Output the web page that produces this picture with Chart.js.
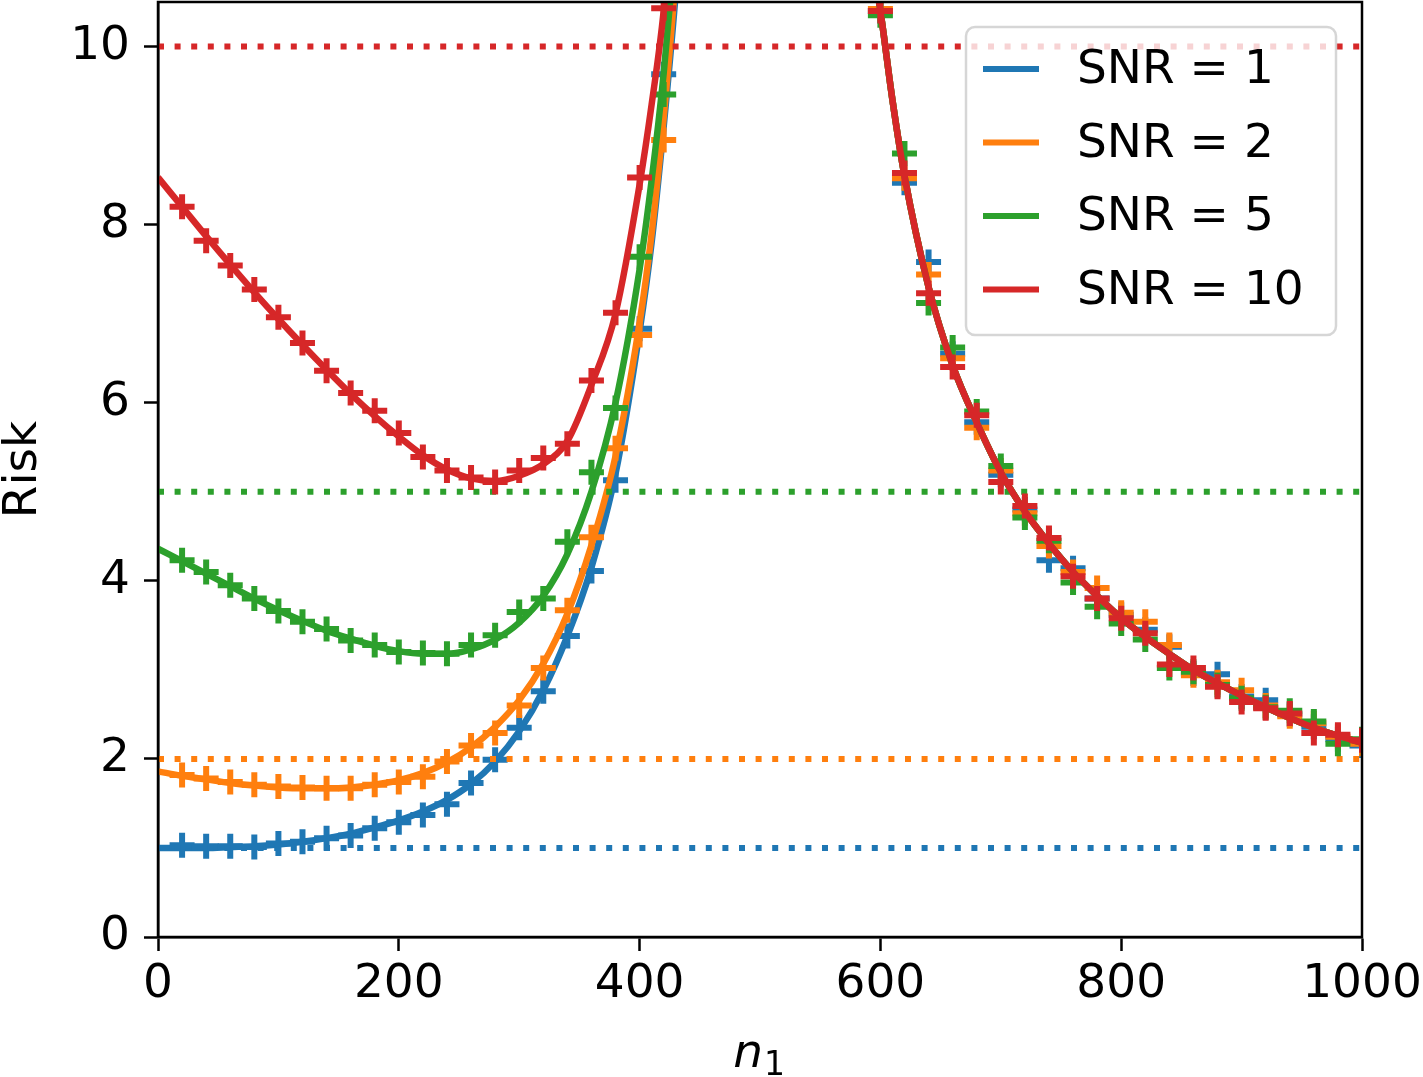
<!DOCTYPE html>
<html>
<head>
<meta charset="utf-8">
<script src="https://cdn.jsdelivr.net/npm/chart.js@4.4.0/dist/chart.umd.min.js"></script>
<style>
  html, body { margin: 0; padding: 0; background: #fff; }
  #wrap { width: 1423px; height: 1077px; }
</style>
</head>
<body>
<div id="wrap"><canvas id="riskChart" width="1423" height="1077"></canvas></div>
<script>
// series labels / colours
const seriesNames = ['SNR = 1', 'SNR = 2', 'SNR = 5', 'SNR = 10'];
const snrLevels = [1, 2, 5, 10];
const colors = ['#1f77b4', '#ff7f0e', '#2ca02c', '#d62728'];

// theory curves, left branch (n1 up to the blow-up)
const lineLeftN = [0, 20, 40, 60, 80, 100, 120, 140, 160, 180, 200, 220, 240, 260, 280, 300, 320, 340, 360, 380, 400, 410, 420, 430, 440];
const blueLine   = [1.00, 1.00, 1.00, 1.01, 1.02, 1.04, 1.07, 1.11, 1.16, 1.23, 1.31, 1.41, 1.54, 1.72, 1.97, 2.31, 2.77, 3.38, 4.15, 5.20, 6.80, 7.80, 9.10, 10.60, 12.50];
const orangeLine = [1.86, 1.81, 1.77, 1.73, 1.70, 1.68, 1.67, 1.67, 1.68, 1.71, 1.76, 1.84, 1.96, 2.13, 2.36, 2.66, 3.07, 3.63, 4.40, 5.40, 6.90, 7.90, 9.20, 10.80, 12.80];
const greenLine  = [4.36, 4.22, 4.08, 3.94, 3.80, 3.67, 3.55, 3.44, 3.35, 3.27, 3.21, 3.18, 3.18, 3.23, 3.34, 3.53, 3.83, 4.30, 5.00, 6.00, 7.50, 8.50, 9.70, 11.20, 13.00];
const redLine    = [8.53, 8.20, 7.87, 7.55, 7.24, 6.94, 6.65, 6.37, 6.10, 5.85, 5.62, 5.41, 5.25, 5.15, 5.12, 5.18, 5.31, 5.57, 6.20, 7.00, 8.45, 9.35, 10.40, 12.00, 14.00];

// theory curve, right branch (the four curves coincide here)
const lineRightN = [590, 600, 610, 620, 640, 660, 680, 700, 720, 740, 760, 780, 800, 820, 840, 860, 880, 900, 920, 940, 960, 980, 1000];
const rightLine  = [11.2, 10.4, 9.4, 8.55, 7.30, 6.42, 5.78, 5.22, 4.78, 4.42, 4.10, 3.83, 3.58, 3.37, 3.18, 3.00, 2.85, 2.71, 2.58, 2.46, 2.35, 2.26, 2.18];

// simulated points ("+" markers)
const markLeftN = [20, 40, 60, 80, 100, 120, 140, 160, 180, 200, 220, 240, 260, 280, 300, 320, 340, 360, 380, 400, 420];
const blueMarkLeft   = [1.03, 1.02, 1.02, 1.01, 1.05, 1.07, 1.11, 1.14, 1.22, 1.29, 1.37, 1.49, 1.73, 1.99, 2.35, 2.76, 3.38, 4.11, 5.13, 6.83, 9.69];
const orangeMarkLeft = [1.82, 1.78, 1.74, 1.71, 1.69, 1.68, 1.67, 1.67, 1.71, 1.74, 1.80, 1.97, 2.15, 2.29, 2.60, 3.02, 3.67, 4.49, 5.49, 6.76, 8.95];
const greenMarkLeft  = [4.23, 4.10, 3.95, 3.80, 3.66, 3.54, 3.46, 3.33, 3.28, 3.20, 3.19, 3.18, 3.28, 3.39, 3.65, 3.80, 4.44, 5.22, 5.94, 7.64, 9.46];
const redMarkLeft    = [8.20, 7.82, 7.54, 7.27, 6.96, 6.67, 6.36, 6.11, 5.91, 5.66, 5.39, 5.24, 5.16, 5.11, 5.24, 5.38, 5.54, 6.25, 7.01, 8.53, 10.43];

const markRightN = [600, 620, 640, 660, 680, 700, 720, 740, 760, 780, 800, 820, 840, 860, 880, 900, 920, 940, 960, 980, 1000];
const blueMarkRight   = [10.40, 8.47, 7.58, 6.55, 5.78, 5.19, 4.80, 4.23, 4.14, 3.80, 3.62, 3.45, 3.26, 2.96, 2.95, 2.70, 2.66, 2.50, 2.36, 2.22, 2.15];
const orangeMarkRight = [10.42, 8.52, 7.44, 6.50, 5.72, 5.24, 4.76, 4.39, 4.10, 3.92, 3.64, 3.54, 3.28, 2.94, 2.86, 2.77, 2.60, 2.48, 2.40, 2.25, 2.17];
const greenMarkRight  = [10.35, 8.80, 7.12, 6.62, 5.90, 5.29, 4.71, 4.45, 3.98, 3.71, 3.52, 3.34, 3.02, 2.98, 2.83, 2.68, 2.58, 2.54, 2.42, 2.17, 2.22];
const redMarkRight    = [10.40, 8.58, 7.23, 6.40, 5.86, 5.11, 4.84, 4.48, 4.05, 3.80, 3.58, 3.41, 3.06, 3.02, 2.81, 2.64, 2.57, 2.51, 2.29, 2.27, 2.21];

const xTicks = [0, 200, 400, 600, 800, 1000];
const yTicks = [0, 2, 4, 6, 8, 10];

const lineLeft = [blueLine, orangeLine, greenLine, redLine];
const markLeft = [blueMarkLeft, orangeMarkLeft, greenMarkLeft, redMarkLeft];
const markRight = [blueMarkRight, orangeMarkRight, greenMarkRight, redMarkRight];

const FONT = "'DejaVu Sans', sans-serif";

function pts(xs, ys) {
  return xs.map((x, i) => ({ x: x, y: ys[i] }));
}

// build datasets; lower order = drawn on top, so red ends up above blue
const datasets = [];
seriesNames.forEach((name, i) => {
  const base = (4 - i) * 3;
  datasets.push({
    label: name,
    isLegend: true,
    data: pts(lineLeftN, lineLeft[i]).concat([{ x: 510, y: null }], pts(lineRightN, rightLine)),
    borderColor: colors[i],
    borderWidth: 6.5,
    pointRadius: 0,
    cubicInterpolationMode: 'monotone',
    spanGaps: false,
    order: base
  });
  datasets.push({
    label: name + ' sim',
    data: pts(markLeftN, markLeft[i]).concat(pts(markRightN, markRight[i])),
    showLine: false,
    pointStyle: 'cross',
    pointRadius: 12.5,
    pointBorderWidth: 6,
    pointBorderColor: colors[i],
    pointBackgroundColor: colors[i],
    pointHoverRadius: 12.5,
    order: base - 1
  });
  datasets.push({
    label: name + ' level',
    data: [{ x: 0, y: snrLevels[i] }, { x: 1000, y: snrLevels[i] }],
    borderColor: colors[i],
    borderWidth: 6,
    borderDash: [6, 10.6],
    borderCapStyle: 'butt',
    pointRadius: 0,
    order: base - 2
  });
});

// spines on all four sides, x-axis label, legend box in the upper right
const framePlugin = {
  id: 'frame',
  afterDatasetsDraw(chart) {
    const { ctx, chartArea: a } = chart;
    ctx.save();
    ctx.strokeStyle = '#000';
    ctx.lineWidth = 2.5;
    ctx.strokeRect(a.left, a.top, a.right - a.left, a.bottom - a.top);

    // x label: italic n with upright subscript 1
    const cx = (a.left + a.right) / 2;
    ctx.fillStyle = '#000';
    ctx.textBaseline = 'alphabetic';
    ctx.textAlign = 'right';
    ctx.font = 'italic 47px ' + FONT;
    ctx.fillText('n', cx + 3, 1067);
    ctx.textAlign = 'left';
    ctx.font = '33px ' + FONT;
    ctx.fillText('1', cx + 4, 1075);

    // legend
    const items = chart.data.datasets.filter(d => d.isLegend);
    const bx = 966, by = 27, bw = 370, bh = 308, r = 9;
    ctx.beginPath();
    ctx.moveTo(bx + r, by);
    ctx.arcTo(bx + bw, by, bx + bw, by + bh, r);
    ctx.arcTo(bx + bw, by + bh, bx, by + bh, r);
    ctx.arcTo(bx, by + bh, bx, by, r);
    ctx.arcTo(bx, by, bx + bw, by, r);
    ctx.closePath();
    ctx.fillStyle = 'rgba(255,255,255,0.8)';
    ctx.fill();
    ctx.strokeStyle = 'rgba(204,204,204,0.8)';
    ctx.lineWidth = 2.5;
    ctx.stroke();

    ctx.font = '47px ' + FONT;
    ctx.textBaseline = 'middle';
    ctx.textAlign = 'left';
    items.forEach((d, i) => {
      const cy = by + 42 + i * 73.5;
      ctx.strokeStyle = d.borderColor;
      ctx.lineWidth = 6;
      ctx.beginPath();
      ctx.moveTo(983, cy);
      ctx.lineTo(1039, cy);
      ctx.stroke();
      ctx.fillStyle = '#000';
      ctx.fillText(d.label, 1077, cy + 2);
    });
    ctx.restore();
  }
};

function noPad(s) {
  s.paddingLeft = 0; s.paddingRight = 0; s.paddingTop = 0; s.paddingBottom = 0;
}

new Chart(document.getElementById('riskChart'), {
  type: 'line',
  data: { datasets: datasets },
  options: {
    responsive: false,
    animation: false,
    layout: { autoPadding: false, padding: { top: 2, right: 61, left: 0, bottom: 0 } },
    plugins: {
      legend: { display: false },
      tooltip: { enabled: false }
    },
    scales: {
      x: {
        type: 'linear',
        min: 0,
        max: 1000,
        afterBuildTicks: s => { s.ticks = xTicks.map(v => ({ value: v })); },
        afterFit: s => { s.height = 140; noPad(s); },
        grid: { drawOnChartArea: false, drawTicks: true, tickLength: 14, tickWidth: 2.5, tickColor: '#000' },
        border: { display: true, color: '#000', width: 2.5 },
        ticks: { color: '#000', font: { family: FONT, size: 47 }, padding: 6, maxRotation: 0, callback: v => String(v) }
      },
      y: {
        type: 'linear',
        min: 0,
        max: 10.5,
        afterBuildTicks: s => { s.ticks = yTicks.map(v => ({ value: v })); },
        afterFit: s => { s.width = 158; noPad(s); },
        grid: { drawOnChartArea: false, drawTicks: true, tickLength: 14, tickWidth: 2.5, tickColor: '#000' },
        border: { display: true, color: '#000', width: 2.5 },
        ticks: { color: '#000', font: { family: FONT, size: 47 }, padding: 14, callback: v => String(v) },
        title: {
          display: true,
          text: 'Risk',
          color: '#000',
          font: { family: FONT, size: 47, lineHeight: 1.0 },
          padding: 0
        }
      }
    }
  },
  plugins: [framePlugin]
});
</script>
</body>
</html>
